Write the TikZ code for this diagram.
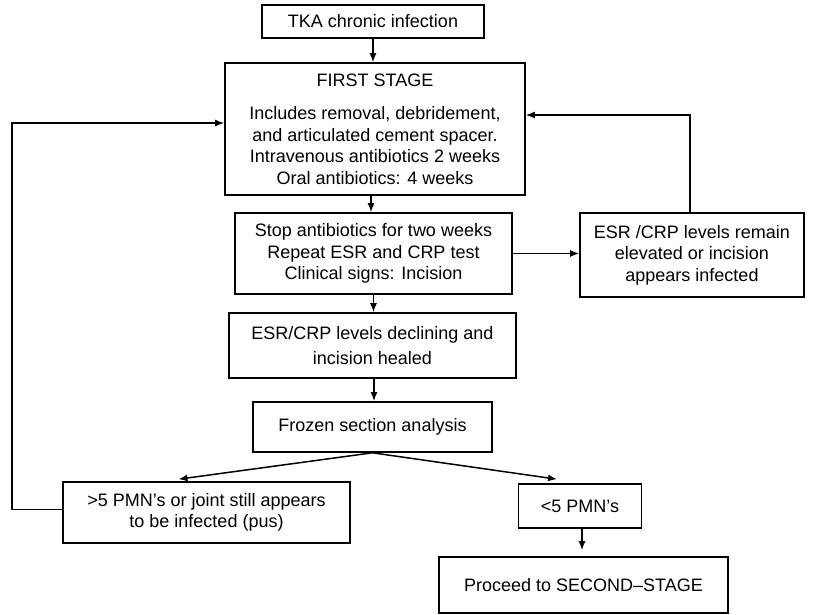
\documentclass[tikz,border=0pt]{standalone}
\usepackage{fontspec}
\setmainfont{Liberation Sans}
\usepackage{tikz}
\usetikzlibrary{arrows.meta}

\begin{document}
\begin{tikzpicture}[x=1pt,y=-1pt,>={Latex[length=9pt,width=7pt]},
			blk/.style={draw,line width=1.6pt,inner sep=0pt,align=center,
				font=\fontsize{18}{21.5}\selectfont},
			link/.style={line width=1.5pt},
			]
			% page frame
			\useasboundingbox (0,0) rectangle (815,615);
			
			% main column
			\node[blk,minimum width=222pt,minimum height=33pt] (tka) at (373,21.5) {TKA chronic infection};
			\node[blk,minimum width=300pt,minimum height=132pt] (first) at (375,129)
			{FIRST STAGE\\[12pt]Includes removal, debridement,\\and articulated cement spacer.\\
				Intravenous antibiotics 2 weeks\\Oral antibiotics: 4 weeks};
			\node[blk,minimum width=277pt,minimum height=81pt] (stop) at (373.5,253.5)
			{Stop antibiotics for two weeks\\Repeat ESR and CRP test\\Clinical signs: Incision};
			\node[blk,minimum width=287pt,minimum height=65pt] (decl) at (372.5,345.5)
			{ESR/CRP levels declining and\\[3.5pt]incision healed};
			\node[blk,minimum width=239pt,minimum height=50pt] (frozen) at (372.5,427) {Frozen section analysis};
			
			% side and lower boxes
			\node[blk,minimum width=224pt,minimum height=84pt] (remain) at (692,255)
			{ESR /CRP levels remain\\elevated or incision\\appears infected};
			\node[blk,minimum width=287pt,minimum height=61pt] (pmnhigh) at (206.5,512.5)
			{>5 PMN’s or joint still appears\\to be infected (pus)};
			\node[blk,minimum width=123pt,minimum height=44pt] (pmnlow) at (580,506) {<5 PMN’s};
			\node[blk,minimum width=289pt,minimum height=56pt] (proceed) at (583.5,585) {Proceed to SECOND–STAGE};
			
			% straight arrows
			\draw[->,link] (tka.south) -- (tka.south |- first.north);
			\draw[->,link] ([xshift=-4pt]first.south) -- ([xshift=-4pt]first.south |- stop.north);
			\draw[->,link] (stop.south) -- (stop.south |- decl.north);
			\draw[->,link] ([xshift=1.5pt]decl.south) -- ([xshift=1.5pt]decl.south |- frozen.north);
			\draw[->,link] (stop.east) -- (stop.east -| remain.west);
			
			% split after frozen section
			\draw[->,link] (frozen.south) -- ([xshift=-28pt,yshift=2pt]pmnhigh.north);
			\draw[->,link] (frozen.south) -- ([xshift=-23pt,yshift=4pt]pmnlow.north);
			\draw[->,link,shorten >=6pt] ([xshift=2pt]pmnlow.south) -- ([xshift=2pt]pmnlow.south |- proceed.north);
			
			% loops back to first stage
			\coordinate (lx) at (12,0);
			\draw[->,link] ([yshift=3pt]pmnhigh.west) -- ([yshift=3pt]pmnhigh.west -| lx) |- ([yshift=6pt]first.west);
			\draw[->,link] ([xshift=-2pt]remain.north) |- ([yshift=14pt]first.east);
		\end{tikzpicture}
\end{document}
